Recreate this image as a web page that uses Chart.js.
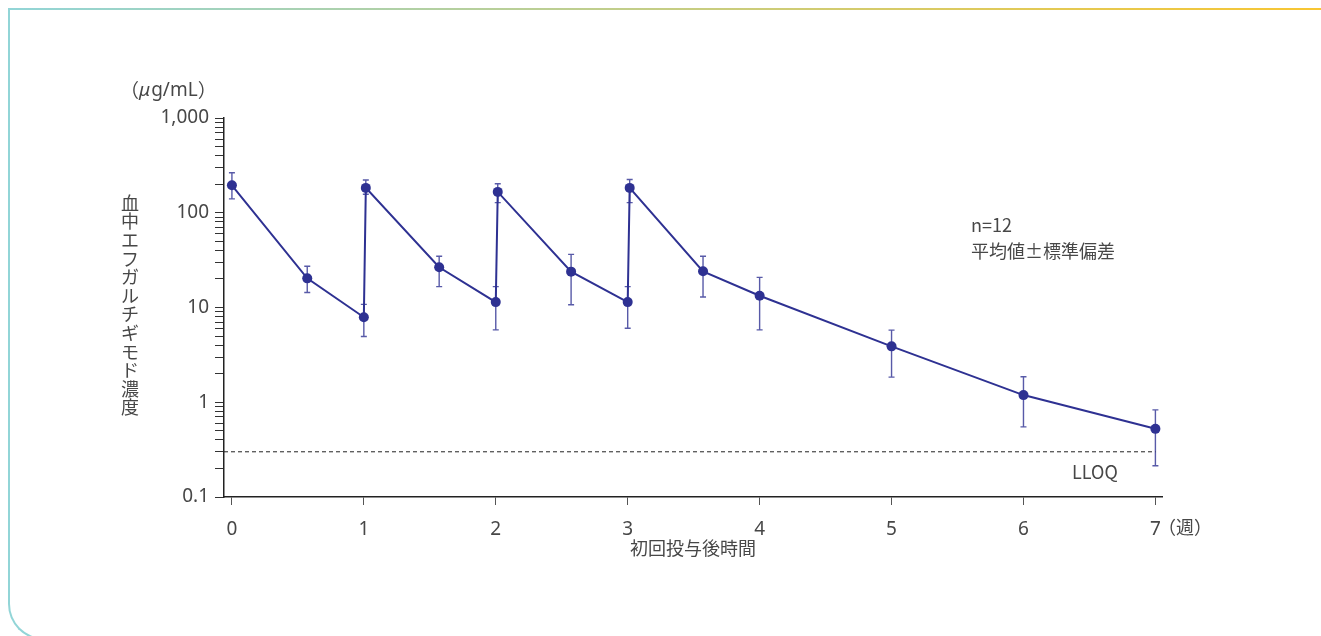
<!DOCTYPE html>
<html lang="ja">
<head>
<meta charset="utf-8">
<script src="https://cdn.jsdelivr.net/npm/chart.js@4/dist/chart.umd.min.js"></script>
<style>
  html, body { margin: 0; padding: 0; background: #fff; overflow: hidden; }
  #wrap { position: relative; width: 1321px; height: 636px; }
  #topline { position: absolute; left: 8px; top: 8px; right: 0; height: 2px;
    background: linear-gradient(to right, #92d5d7, #f8c632); }
  #leftline { position: absolute; left: 8px; top: 8px; width: 120px; height: 632px;
    border-left: 2px solid #92d5d7; border-bottom: 2px solid #92d5d7;
    border-bottom-left-radius: 36px; box-sizing: border-box; }
  #myChart { position: absolute; left: 0; top: 0; }
</style>
</head>
<body>
<div id="wrap">
  <div id="topline"></div>
  <div id="leftline"></div>
  <canvas id="myChart" width="1321" height="636"></canvas>
</div>
<script>
// time after first dose (weeks)
const weeks = [0, 0.571, 1, 1.015, 1.571, 2, 2.015, 2.571, 3, 3.015, 3.571, 4, 5, 6, 7];
// mean serum efgartigimod concentration (ug/mL)
const meanConc = [195, 20.3, 7.9, 183, 26.6, 11.4, 166, 23.9, 11.4, 183, 24.1, 13.3, 3.89, 1.19, 0.524];
// mean + SD / mean - SD
const sdHigh = [264, 27.2, 10.8, 222, 34.7, 16.6, 202, 36.4, 16.6, 224, 34.7, 20.8, 5.77, 1.86, 0.83];
const sdLow = [140, 14.4, 4.95, 157, 16.6, 5.8, 128, 10.7, 6.05, 128, 12.9, 5.8, 1.84, 0.55, 0.214];
const lloq = 0.3;

const xTicks = [0, 1, 2, 3, 4, 5, 6, 7];
const yMajorTicks = [0.1, 1, 10, 100, 1000];
const yMajorLabels = ['0.1', '1', '10', '100', '1,000'];

const yTicks = [];
yMajorTicks.forEach(function (m, i) {
  yTicks.push(m);
  if (i < yMajorTicks.length - 1) {
    for (let k = 2; k <= 9; k++) yTicks.push(+(m * k).toPrecision(3));
  }
});

const navy = '#2e3192';
const textColor = '#474747';
const fontFamily = '"Noto Sans CJK JP", "Noto Sans", sans-serif';
const numFamily = '"Noto Sans", "Noto Sans CJK JP", sans-serif';

const errorBars = {
  id: 'errorBars',
  beforeDatasetsDraw(chart) {
    const ctx = chart.ctx;
    const xs = chart.scales.x, ys = chart.scales.y;
    ctx.save();
    ctx.strokeStyle = 'rgba(46,49,146,0.8)';
    ctx.lineWidth = 1.4;
    for (let i = 0; i < weeks.length; i++) {
      const px = xs.getPixelForValue(weeks[i]);
      const top = ys.getPixelForValue(sdHigh[i]);
      const bot = ys.getPixelForValue(sdLow[i]);
      ctx.beginPath();
      ctx.moveTo(px, top); ctx.lineTo(px, bot);
      ctx.moveTo(px - 3, top); ctx.lineTo(px + 3, top);
      ctx.moveTo(px - 3, bot); ctx.lineTo(px + 3, bot);
      ctx.stroke();
    }
    ctx.restore();
  }
};

const labels = {
  id: 'labels',
  afterDraw(chart) {
    const ctx = chart.ctx;
    ctx.save();
    ctx.fillStyle = textColor;
    ctx.textBaseline = 'middle';
    ctx.textAlign = 'left';
    // unit, with italic mu
    let ux = 120;
    const uy = 91;
    ctx.font = '19px ' + fontFamily;
    ctx.fillText('（', ux, uy);
    ux += ctx.measureText('（').width;
    ctx.font = 'italic 19px ' + numFamily;
    ctx.fillText('μ', ux, uy);
    ux += ctx.measureText('μ').width + 1;
    ctx.font = '19px ' + numFamily;
    ctx.fillText('g/mL', ux, uy);
    ux += ctx.measureText('g/mL').width;
    ctx.font = '19px ' + fontFamily;
    ctx.fillText('）', ux, uy);

    ctx.font = '18px ' + fontFamily;
    ctx.fillText('n=12', 971, 225);
    ctx.fillText('平均値±標準偏差', 971, 251);
    ctx.fillText('LLOQ', 1072, 472);
    ctx.fillText('（週）', 1158, 527);
    // vertical axis label, upright characters
    ctx.textAlign = 'center';
    ctx.font = '18px ' + fontFamily;
    const vText = '血中エフガルチギモド濃度';
    for (let i = 0; i < vText.length; i++) {
      ctx.fillText(vText[i], 130, 203 + i * 18.6);
    }
    ctx.restore();
  }
};

const ctx = document.getElementById('myChart').getContext('2d');
const myChart = new Chart(ctx, {
  type: 'scatter',
  data: {
    datasets: [
      {
        data: weeks.map((w, i) => ({ x: w, y: meanConc[i] })),
        showLine: true,
        borderColor: navy,
        backgroundColor: navy,
        borderWidth: 2,
        pointRadius: 5,
        pointBorderWidth: 0,
        order: 1,
      },
      {
        data: [{ x: -0.06, y: lloq }, { x: 7, y: lloq }],
        showLine: true,
        borderColor: '#222',
        borderWidth: 1,
        borderDash: [4, 3],
        pointRadius: 0,
        order: 2,
      },
    ],
  },
  options: {
    responsive: false,
    animation: false,
    layout: { padding: { top: 118, right: 159, bottom: 76, left: 0 } },
    plugins: { legend: { display: false }, tooltip: { enabled: false } },
    scales: {
      x: {
        type: 'linear',
        min: -0.06,
        max: 7.05,
        afterBuildTicks: (scale) => { scale.ticks = xTicks.map(v => ({ value: v })); },
        afterFit: (scale) => { scale.height = 63; },
        grid: { drawOnChartArea: false, drawTicks: true, tickLength: 8, color: '#555', lineWidth: 1 },
        border: { color: '#222', width: 1.5 },
        ticks: { color: textColor, font: { family: numFamily, size: 19 }, padding: 13, autoSkip: false, maxRotation: 0 },
        title: { display: true, text: '初回投与後時間', color: textColor, font: { family: fontFamily, size: 18 }, padding: { top: 0, bottom: 1 } },
      },
      y: {
        type: 'logarithmic',
        min: 0.1,
        max: 1000,
        afterBuildTicks: (scale) => { scale.ticks = yTicks.map(v => ({ value: v })); },
        afterFit: (scale) => { scale.width = 224; },
        grid: { drawOnChartArea: false, drawTicks: true, tickLength: 9, color: '#333', lineWidth: 1 },
        border: { color: '#222', width: 1.5 },
        ticks: {
          color: textColor,
          font: { family: numFamily, size: 19 },
          padding: 6,
          autoSkip: false,
          callback: function (v) {
            const idx = yMajorTicks.indexOf(v);
            return idx >= 0 ? yMajorLabels[idx] : '';
          },
        },
      },
    },
  },
  plugins: [errorBars, labels],
});
</script>
</body>
</html>
